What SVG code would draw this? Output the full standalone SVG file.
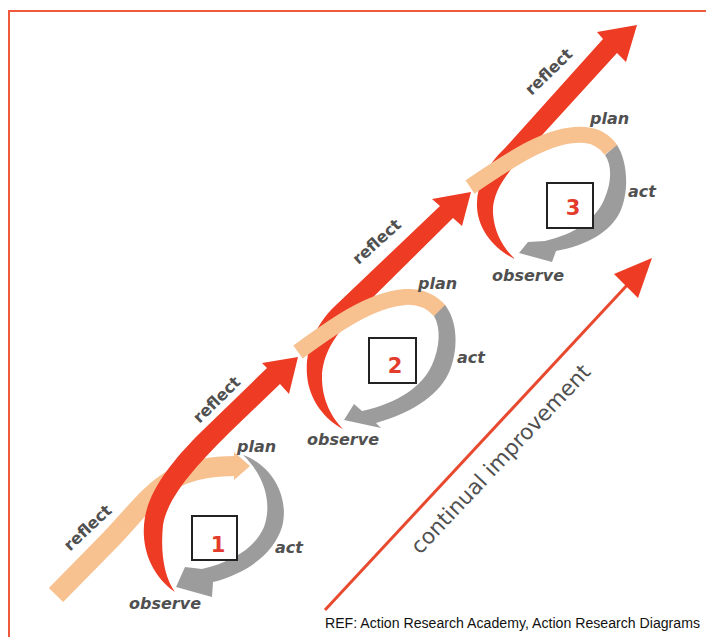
<svg xmlns="http://www.w3.org/2000/svg" width="706" height="637" viewBox="0 0 706 637">
<style>
.red{fill:#EE3B24}
.peach{fill:none;stroke:#F7C190}
.peachf{fill:#F7C190}
.gray{fill:#9C9C9C}
.box{fill:#fff;stroke:#222;stroke-width:2}
.num{font-family:"DejaVu Sans",Verdana,sans-serif;font-size:21px;font-weight:bold;fill:#E33B2C;text-anchor:middle}
.lbl{font-family:"DejaVu Sans",Verdana,sans-serif;font-size:16px;font-weight:bold;fill:#505050}
.it{font-style:italic}
.ref{font-family:"Liberation Sans",Arial,sans-serif;font-size:14px;fill:#111}
</style>
<rect width="706" height="637" fill="#fff"/>
<g id="frame" fill="none" stroke="#EF5A3C" stroke-width="2">
<path d="M9,637 V11 H706"/>
</g>
<g id="cycle1">
<path class="peach" stroke-width="20" d="M56,595 L110,540 C135,514 150,492 175,478 C195,468 220,466 236,466"/>
<polygon class="peachf" points="234,452 250,466 234,480"/>
<path class="gray" d="M243,455 C272,465 290,497 282,527 C274,553 248,573 213,582 L212,597 L176,587 L185,567 L202,569 C232,562 255,548 264,527 C272,505 266,477 243,455 Z"/>
<path class="red" d="M175,592 C150,575 140,545 145,517 C150,490 170,463 200,433 L267,368 L262,363 L298,357 L289,394 L280,384 L230,432 C200,462 168,495 163,525 C160,555 165,578 175,592 Z"/>
<rect class="box" x="192" y="516" width="45" height="44"/>
<text class="num" x="218" y="552">1</text>
<text class="lbl" transform="translate(88,528) rotate(-43)" x="0" y="5" text-anchor="middle">reflect</text>
<text class="lbl" transform="translate(217,400) rotate(-44.5)" x="0" y="5" text-anchor="middle">reflect</text>
<text class="lbl it" x="237" y="452">plan</text>
<text class="lbl it" x="275" y="553">act</text>
<text class="lbl it" x="129" y="609">observe</text>
</g>
<g id="cycle2">
<path class="red" d="M343,429 C325,420 309,400 307,375 C305,350 315,325 335,306 L440,206 L432,199 L471,192 L462,226 L453,218 L352,318 C335,335 322,355 322,378 C322,400 332,418 343,429 Z"/>
<path class="peach" stroke-width="16" d="M298,352 C335,325 370,300 405,297 C420,296 432,302 440,311"/>
<path class="gray" d="M445,305 C457,320 459,347 450,370 C441,393 415,412 376,423 L381,428 L344,420 L354,404 L362,411 C398,403 422,387 432,365 C440,347 441,328 434,316 Z"/>
<rect class="box" x="369" y="338" width="47" height="45"/>
<text class="num" x="395" y="373">2</text>
<text class="lbl" transform="translate(377,242) rotate(-42)" x="0" y="5" text-anchor="middle">reflect</text>
<text class="lbl it" x="418" y="289">plan</text>
<text class="lbl it" x="457" y="363">act</text>
<text class="lbl it" x="307" y="445">observe</text>
</g>
<g id="cycle3">
<path class="red" d="M515,259 C495,250 478,230 477,207 C476,185 487,165 505,148 L603,39 L597,32 L637,25 L626,62 L617,53 L522,157 C503,177 492,195 493,213 C494,232 503,248 515,259 Z"/>
<path class="peach" stroke-width="16" d="M470,187 C510,160 550,132 585,135 C597,136 606,143 611,150"/>
<path class="gray" d="M617,145 C627,160 630,190 620,212 C610,232 588,245 556,251 L552,262 L519,253 L528,242 L545,241 C575,234 595,220 604,200 C612,182 612,165 605,155 Z"/>
<rect class="box" x="547" y="183" width="46" height="45"/>
<text class="num" x="573" y="215">3</text>
<text class="lbl" transform="translate(549,72) rotate(-44)" x="0" y="5" text-anchor="middle">reflect</text>
<text class="lbl it" x="590" y="124">plan</text>
<text class="lbl it" x="628" y="197">act</text>
<text class="lbl it" x="492" y="281">observe</text>
</g>
<g id="connectors">
<line x1="325" y1="610" x2="630" y2="282" stroke="#E84A30" stroke-width="3"/>
<polygon fill="#EE3B24" points="652,258 638,298 614,274"/>
</g>
<g id="improvement">
<text transform="translate(506,464) rotate(-46.7)" x="0" y="0" text-anchor="middle" font-family="DejaVu Sans,Verdana,sans-serif" font-size="21.5" fill="#505050">continual improvement</text>
</g>
<text class="ref" x="325" y="628" textLength="375" lengthAdjust="spacingAndGlyphs">REF: Action Research Academy, Action Research Diagrams</text>
</svg>
